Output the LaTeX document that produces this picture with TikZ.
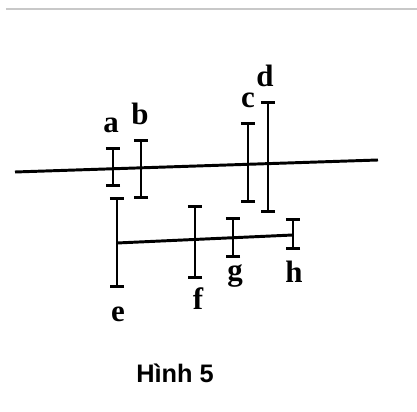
\documentclass[tikz,border=0pt]{standalone}
\usepackage{fontspec}
\setmainfont{Liberation Serif}
\setsansfont{Liberation Sans}
\usepackage{tikz}
\usetikzlibrary{arrows.meta,positioning}
\definecolor{hgray}{HTML}{C8C8C8}
\tikzset{
  seg/.style={{Bar[width=3.5mm]}-{Bar[width=3.5mm]}, line width=1.9pt},
  axis/.style={line width=2.1pt},
  lbl/.style={font=\bfseries\fontsize{22}{24}\selectfont, inner sep=0pt, anchor=base},
  figcap/.style={font=\sffamily\bfseries\fontsize{18}{20}\selectfont, inner sep=0pt, anchor=base},
}

\begin{document}
\begin{tikzpicture}[x=0.025cm,y=-0.025cm]
\useasboundingbox (0,0) rectangle (417,412);
\draw[hgray,line width=1.5pt] (6,9) -- (417,9);

\coordinate (L1) at (15,172); \coordinate (L2) at (378,160);
\draw[axis] (L1) -- (L2);

\coordinate (a1) at (113,147); \coordinate (a2) at (113,187);
\coordinate (b1) at (141,139); \coordinate (b2) at (141,199);
\coordinate (c1) at (248,122); \coordinate (c2) at (248,203);
\coordinate (d1) at (268,101); \coordinate (d2) at (268,213);
\coordinate (e1) at (117,197); \coordinate (e2) at (117,288);
\coordinate (f1) at (195,205); \coordinate (f2) at (195,279);
\coordinate (g1) at (233,217); \coordinate (g2) at (233,258);
\coordinate (h1) at (293,218); \coordinate (h2) at (293,250);

\draw[seg] (a1) -- (a2); \draw[seg] (b1) -- (b2);
\draw[seg] (c1) -- (c2); \draw[seg] (d1) -- (d2);
\draw[seg] (e1) -- (e2); \draw[seg] (f1) -- (f2);
\draw[seg] (g1) -- (g2); \draw[seg] (h1) -- (h2);

\coordinate (E) at (117,243); \coordinate (H) at (293,235);
\draw[axis] (E) -- (H);

\node[lbl] (la) at (111,133) {a};
\node[lbl] (lb) at (140,125) {b};
\node[lbl] (lc) at (248,108) {c};
\node[lbl] (ld) at (265,87) {d};
\node[lbl] (le) at (118,322) {e};
\node[lbl] (lf) at (198,310) {f};
\node[lbl] (lg) at (235,281) {g};
\node[lbl] (lh) at (294,283) {h};

\node[figcap] (fig) at (175,383) {Hình 5};
\end{tikzpicture}
\end{document}
